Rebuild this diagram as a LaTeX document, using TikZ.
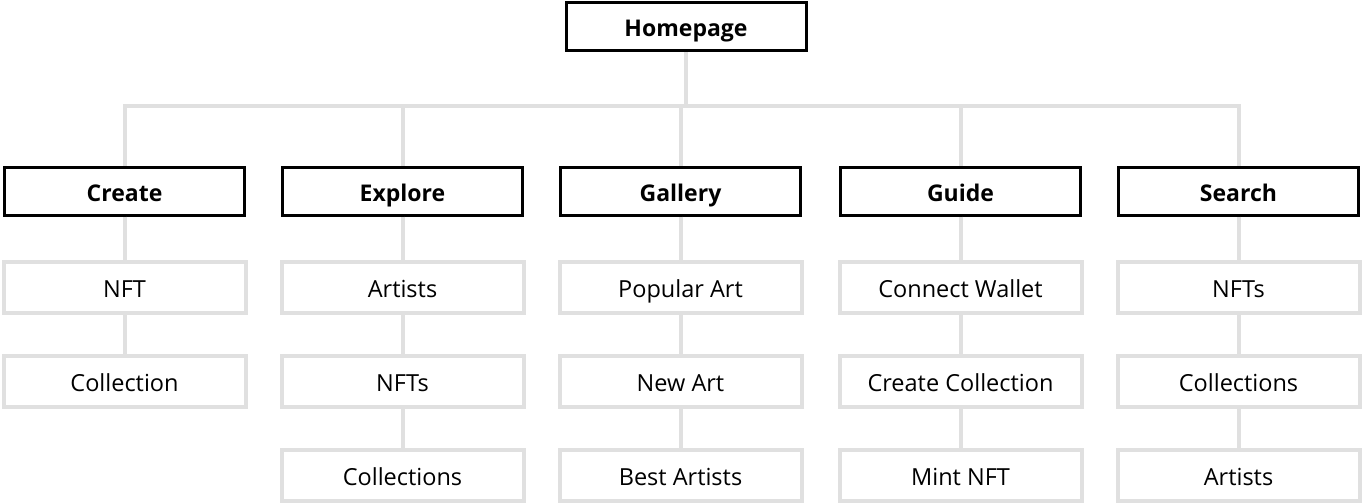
\documentclass[tikz,border=0pt]{standalone}
\usepackage{fontspec}
\setmainfont{Open Sans}
\usepackage{tikz}
\usetikzlibrary{positioning}
\definecolor{linkgray}{HTML}{E0E0E0}

\begin{document}
\begin{tikzpicture}[
    x=1pt,
    y=-1pt,
    font=\fontsize{23.5}{28}\selectfont,
    topbox/.style={draw=black, line width=3, fill=white, minimum width=240, minimum height=48, inner sep=0, text height=22, text depth=2, font=\fontsize{23}{28}\selectfont\bfseries},
    subbox/.style={draw=linkgray, line width=4, fill=white, minimum width=242, minimum height=51, inner sep=0, text height=22, text depth=2},
    link/.style={draw=linkgray, line width=4}
]
  \useasboundingbox (0,0) rectangle (1364,503);

  % root and sections
  \node[topbox] (home) at (686,27) {Homepage};
  \node[topbox] (create) at (124.5,191) {Create};
  \node[topbox] (explore) at (402.5,191) {Explore};
  \node[topbox] (gallery) at (680.5,191) {Gallery};
  \node[topbox] (guide) at (960.5,191) {Guide};
  \node[topbox] (search) at (1238.5,191) {Search};

  % pages
  \node[subbox] (create-nft) at (124.5,287) {NFT};
  \node[subbox] (create-coll) at (124.5,381) {Collection};

  \node[subbox] (explore-artists) at (402.5,287) {Artists};
  \node[subbox] (explore-nfts) at (402.5,381) {NFTs};
  \node[subbox] (explore-coll) at (402.5,475) {Collections};

  \node[subbox] (gallery-popular) at (680.5,287) {Popular Art};
  \node[subbox] (gallery-new) at (680.5,381) {New Art};
  \node[subbox] (gallery-best) at (680.5,475) {Best Artists};

  \node[subbox] (guide-wallet) at (960.5,287) {Connect Wallet};
  \node[subbox] (guide-coll) at (960.5,381) {Create Collection};
  \node[subbox] (guide-mint) at (960.5,475) {Mint NFT};

  \node[subbox] (search-nfts) at (1238.5,287) {NFTs};
  \node[subbox] (search-coll) at (1238.5,381) {Collections};
  \node[subbox] (search-artists) at (1238.5,475) {Artists};

  % connectors
  \draw[link] (home.south) -- ++(0,53) -| (create.north);
  \draw[link] (home.south) -- ++(0,53) -| (explore.north);
  \draw[link] (home.south) -- ++(0,53) -| (gallery.north);
  \draw[link] (home.south) -- ++(0,53) -| (guide.north);
  \draw[link] (home.south) -- ++(0,53) -| (search.north);

  \draw[link] (create.south) -- (create-nft.north);
  \draw[link] (create-nft.south) -- (create-coll.north);

  \draw[link] (explore.south) -- (explore-artists.north);
  \draw[link] (explore-artists.south) -- (explore-nfts.north);
  \draw[link] (explore-nfts.south) -- (explore-coll.north);

  \draw[link] (gallery.south) -- (gallery-popular.north);
  \draw[link] (gallery-popular.south) -- (gallery-new.north);
  \draw[link] (gallery-new.south) -- (gallery-best.north);

  \draw[link] (guide.south) -- (guide-wallet.north);
  \draw[link] (guide-wallet.south) -- (guide-coll.north);
  \draw[link] (guide-coll.south) -- (guide-mint.north);

  \draw[link] (search.south) -- (search-nfts.north);
  \draw[link] (search-nfts.south) -- (search-coll.north);
  \draw[link] (search-coll.south) -- (search-artists.north);
\end{tikzpicture}
\end{document}
